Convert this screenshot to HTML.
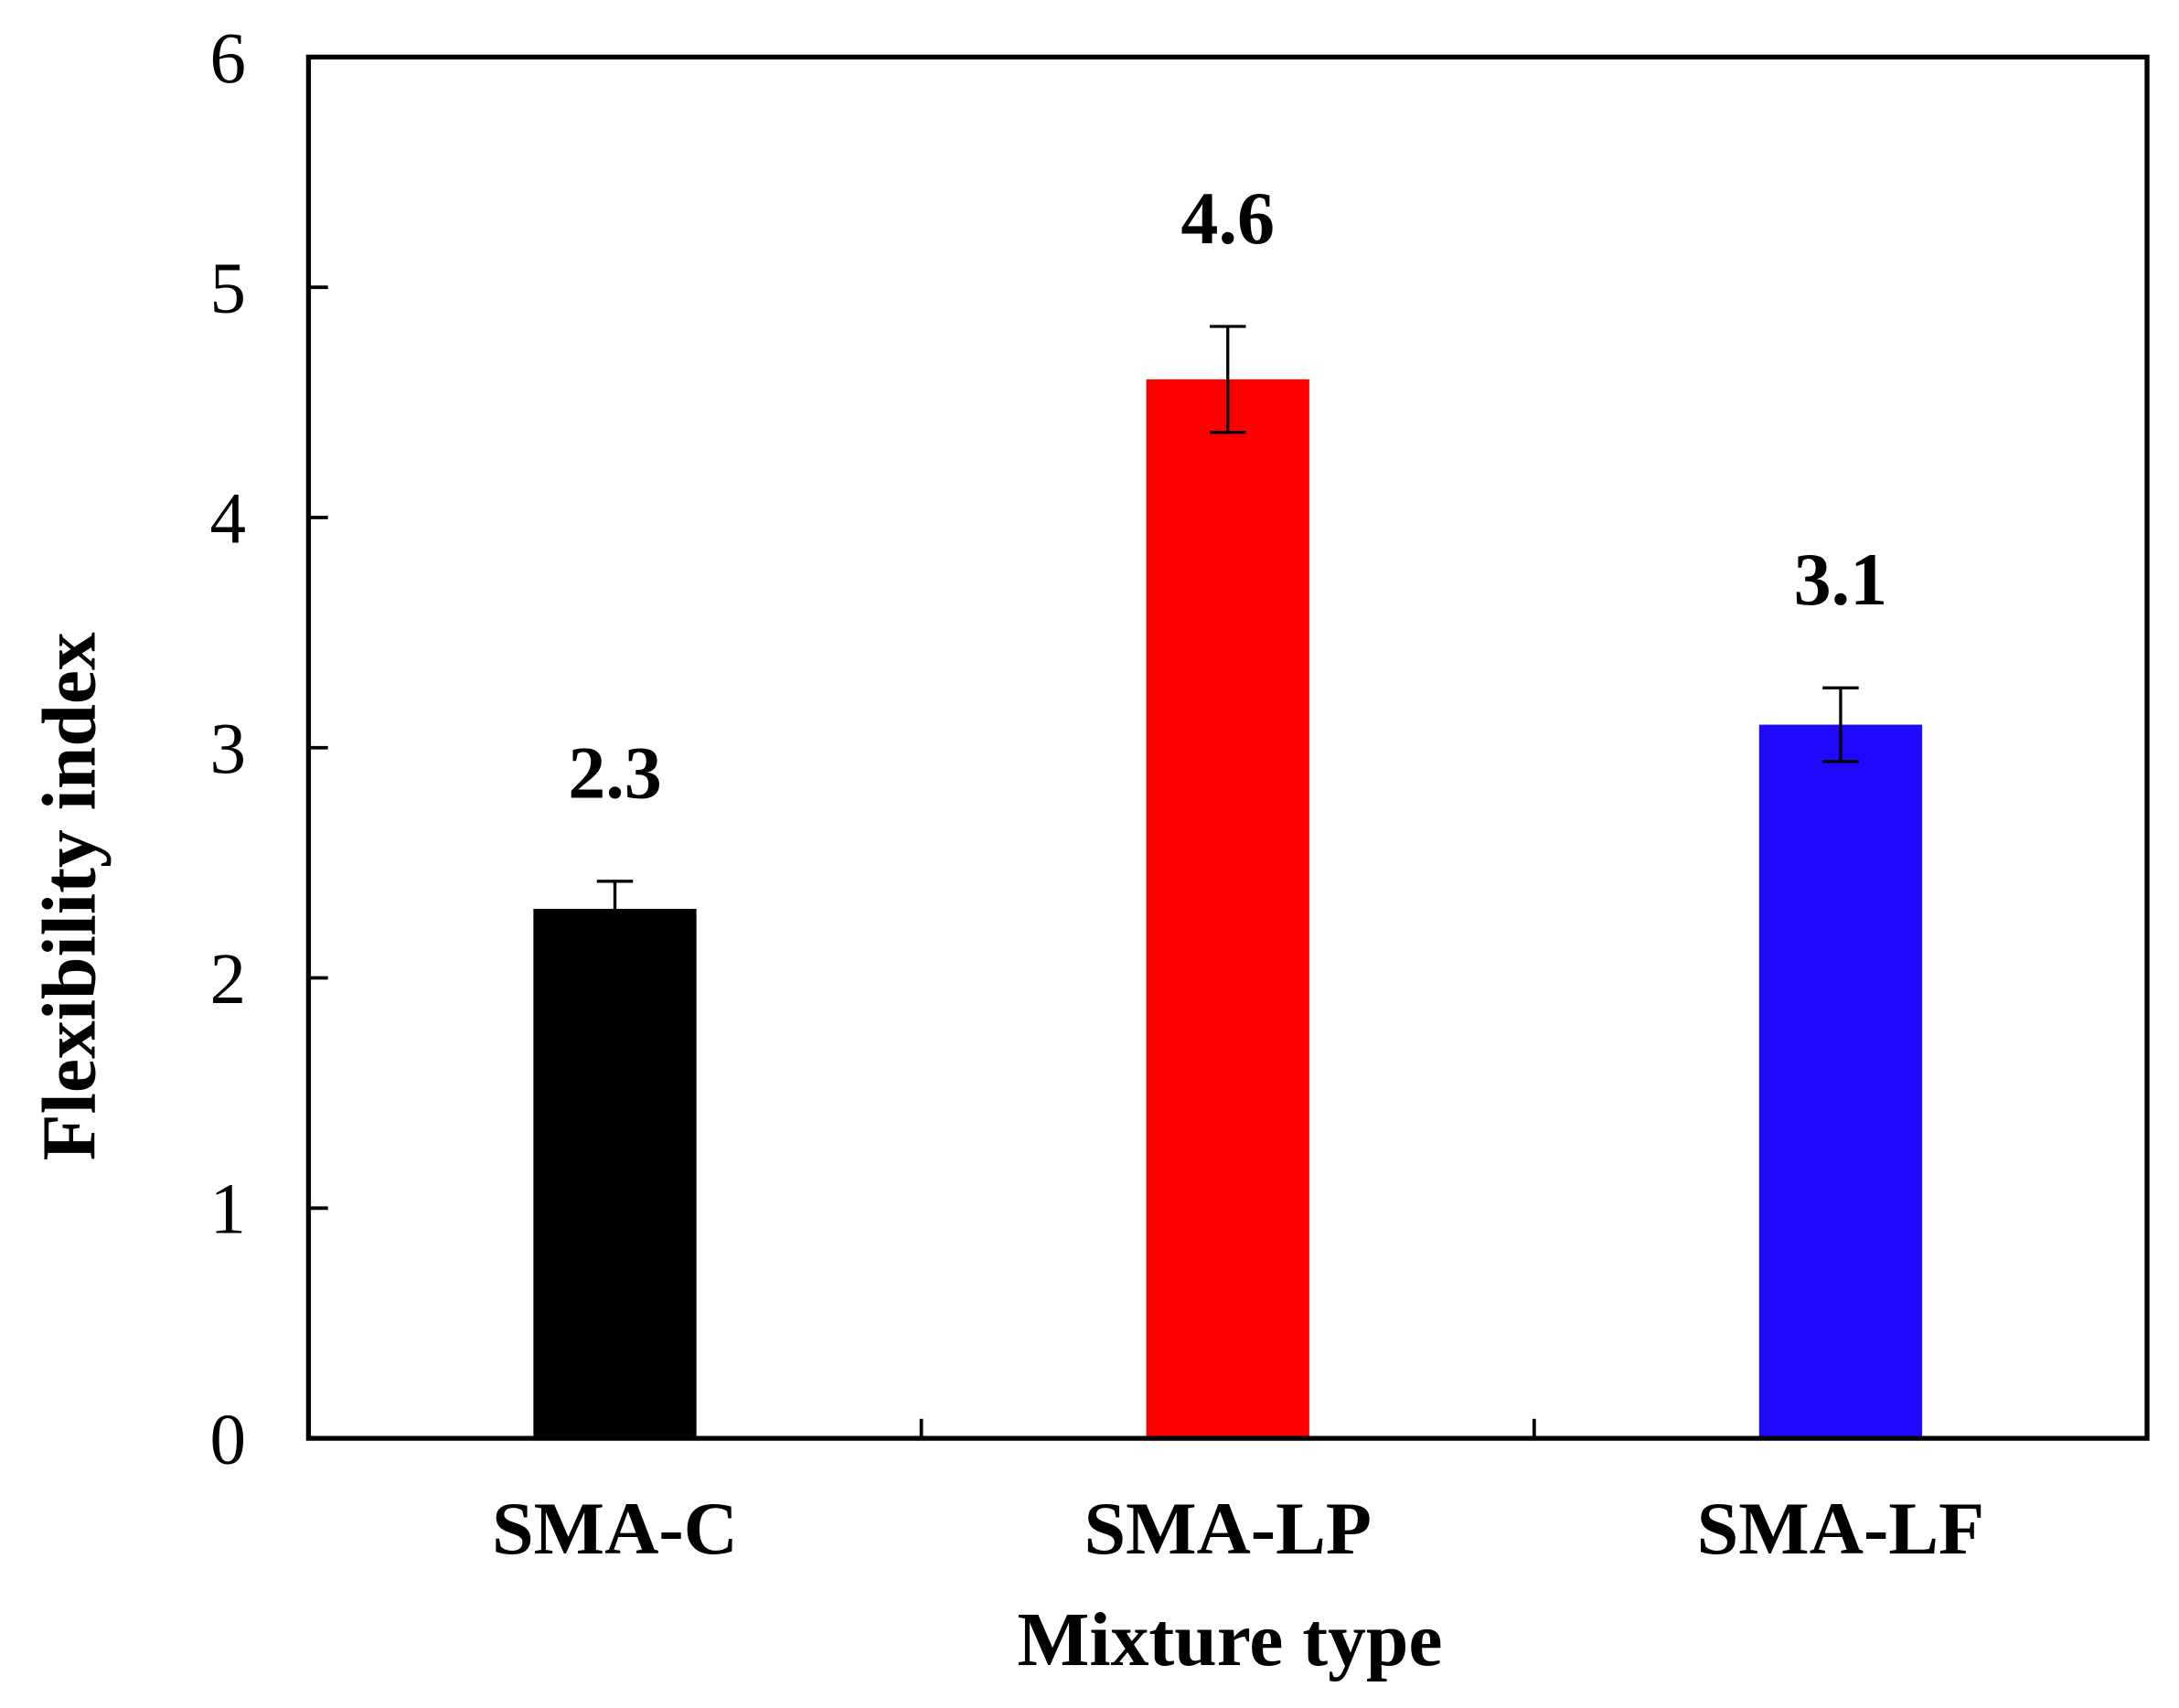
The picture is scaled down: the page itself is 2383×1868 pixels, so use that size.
<!DOCTYPE html>
<html><head><meta charset="utf-8"><style>
html,body{margin:0;padding:0;background:#fff;}
svg{display:block;}
text{font-family:"Liberation Serif",serif;fill:#000;}
</style></head><body>
<svg id="chart" width="2383" height="1868" viewBox="0 0 1568 1229" xmlns="http://www.w3.org/2000/svg">
<g id="g"></g>
</svg>
<script>
const categories = ["SMA-C", "SMA-LP", "SMA-LF"];
const values = [2.3, 4.6, 3.1];
const errors = [0.12, 0.23, 0.16];
const valueLabels = ["2.3", "4.6", "3.1"];
const colors = ["#000000", "#ff0000", "#1f0aff"];
const yTicks = [0, 1, 2, 3, 4, 5, 6];

const L = 222, R = 1545, T = 41, B = 1035;
const yMax = 6;
const ns = "http://www.w3.org/2000/svg";
const g = document.getElementById("g");
const y = v => B - (v / yMax) * (B - T);
const bandW = (R - L) / categories.length;
const xc = i => L + bandW * (i + 0.5);
const barW = bandW * 0.266;

function mk(tag, attrs, parent) {
  const e = document.createElementNS(ns, tag);
  for (const k in attrs) e.setAttribute(k, attrs[k]);
  (parent || g).appendChild(e);
  return e;
}

categories.forEach((c, i) => {
  const r = mk("rect", {x: xc(i) - barW / 2, y: y(values[i]), width: barW, height: B - y(values[i]), fill: colors[i]});
  
  
  const eg = mk("g", {stroke: "#000", "stroke-width": 2.2});
  
  
  const hi = y(values[i] + errors[i]), lo = y(values[i] - errors[i]);
  mk("line", {x1: xc(i), x2: xc(i), y1: hi, y2: lo}, eg);
  mk("line", {x1: xc(i) - 13, x2: xc(i) + 13, y1: hi, y2: hi}, eg);
  mk("line", {x1: xc(i) - 13, x2: xc(i) + 13, y1: lo, y2: lo}, eg);
  const vt = mk("text", {x: xc(i), y: hi - 60, "text-anchor": "middle", "font-size": 54, "font-weight": "bold"});
  vt.textContent = valueLabels[i];
  
  
  const ct = mk("text", {x: xc(i), y: 1118, "text-anchor": "middle", "font-size": 54, "font-weight": "bold"});
  ct.textContent = c;
  
  
});

const fr = mk("rect", {x: L, y: T, width: R - L, height: B - T, fill: "none", stroke: "#000", "stroke-width": 3.5});



yTicks.forEach(t => {
  const tl = mk("line", {x1: L, x2: L + 14, y1: y(t), y2: y(t), stroke: "#000", "stroke-width": 2.5});
  
  
  const tx = mk("text", {x: 177, y: y(t) + 18, "text-anchor": "end", "font-size": 52});
  tx.textContent = t;
  
  
});
for (let i = 1; i < categories.length; i++) {
  const xl = mk("line", {x1: L + bandW * i, x2: L + bandW * i, y1: B, y2: B - 14, stroke: "#000", "stroke-width": 2.5});
  
  
}

const xt = mk("text", {x: 885, y: 1198, "text-anchor": "middle", "font-size": 55, "font-weight": "bold"});
xt.textContent = "Mixture type";


const yt = mk("text", {x: 0, y: 0, "text-anchor": "middle", "font-size": 55, "font-weight": "bold", transform: "translate(68,645) rotate(-90)"});
yt.textContent = "Flexibility index";


</script>
</body></html>
